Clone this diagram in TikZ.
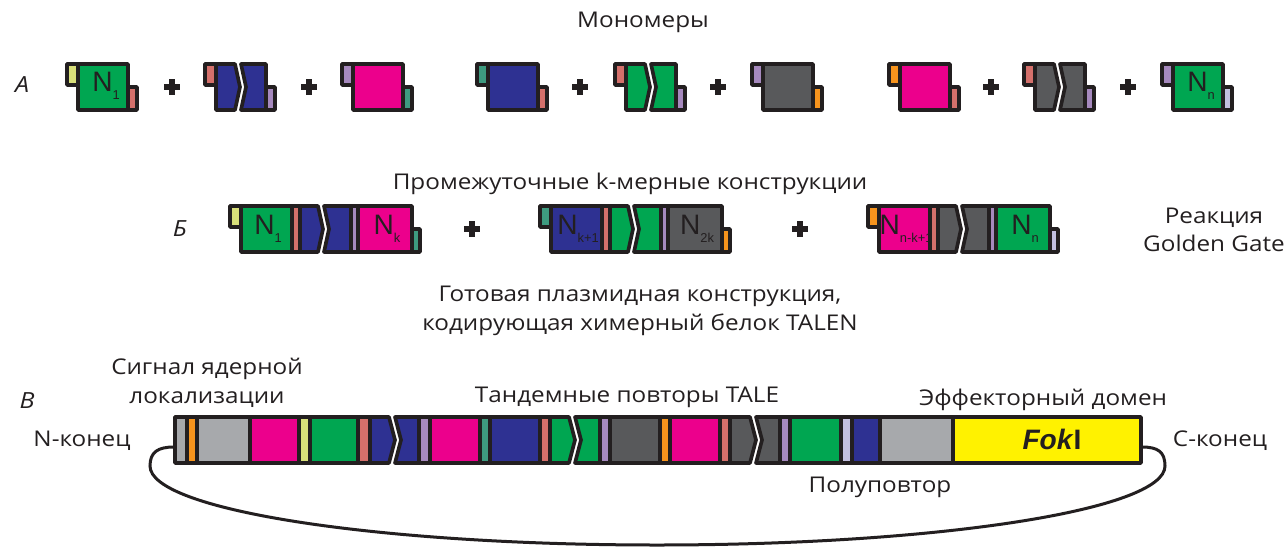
\documentclass[tikz,border=0pt]{standalone}
\usepackage{fontspec}
\setmainfont{Open Sans}[FakeStretch=1.12]
\newfontfamily\arial{Liberation Sans}
\usetikzlibrary{calc}

\definecolor{ink}{RGB}{35,31,32}
\definecolor{tgreen}{RGB}{0,166,81}
\definecolor{tblue}{RGB}{46,49,146}
\definecolor{tpink}{RGB}{236,0,140}
\definecolor{tdgray}{RGB}{88,89,91}
\definecolor{tlgray}{RGB}{167,169,172}
\definecolor{tyellow}{RGB}{255,242,0}
\definecolor{tlime}{RGB}{217,224,122}
\definecolor{tred}{RGB}{213,112,107}
\definecolor{tpurple}{RGB}{166,137,190}
\definecolor{tteal}{RGB}{62,155,128}
\definecolor{torange}{RGB}{247,148,29}
\definecolor{tlav}{RGB}{195,192,224}

\tikzset{
  part/.style={draw=ink, line width=0.11cm, line join=round},
  pluscross/.style={draw=ink, line width=0.2cm},
  lbl/.style={text=ink, font=\fontsize{18.5}{24.5}\selectfont, align=center, inner sep=0pt},
  sect/.style={text=ink, font=\fontsize{19}{24}\selectfont\itshape, inner sep=0pt},
  nlab/.style={text=ink, font=\arial\fontsize{24}{24}\selectfont, inner sep=0pt},
  plasmid/.style={draw=ink, line width=0.09cm},
}

% x0, top, left tab, body, right tab
\newcommand{\monomer}[5]{%
  \begin{scope}[shift={(#1,#2)}]
    \draw[part, fill=#3] (0,0) rectangle (11,21);
    \draw[part, fill=#5] (61,23) rectangle (70,46);
    \draw[part, fill=#4] (11,0) rectangle (61,46);
  \end{scope}}
\newcommand{\splitmono}[5]{%
  \begin{scope}[shift={(#1,#2)}]
    \draw[part, fill=#3] (0,0) rectangle (11,21);
    \draw[part, fill=#5] (61,23) rectangle (70,46);
    \draw[part, fill=#4] (11,0) -- (30,0) -- (35,23) -- (30,46) -- (11,46) -- cycle;
    \draw[part, fill=#4] (36,0) -- (61,0) -- (61,46) -- (36,46) -- (41,23) -- cycle;
  \end{scope}}
% x0, top, left tab, box, stripe, split pair, stripe, box, right tab
\newcommand{\kmer}[9]{%
  \begin{scope}[shift={(#1,#2)}]
    \draw[part, fill=#3] (0,0) rectangle (11,21);
    \draw[part, fill=#9] (182,23) rectangle (190,46);
    \draw[part, fill=#4] (11,0) rectangle (62,46);
    \draw[part, fill=#5] (62,0) rectangle (70,46);
    \draw[part, fill=#6] (70,0) -- (88,0) -- (93,23) -- (88,46) -- (70,46) -- cycle;
    \draw[part, fill=#6] (94,0) -- (121,0) -- (121,46) -- (94,46) -- (99,23) -- cycle;
    \draw[part, fill=#7] (121,0) rectangle (128,46);
    \draw[part, fill=#8] (128,0) rectangle (182,46);
  \end{scope}}
\newcommand{\plusat}[2]{\draw[pluscross] (#1-8,#2) -- (#1+8,#2) (#1,#2-8) -- (#1,#2+8);}
\newcommand{\nsub}[1]{N\raisebox{-7pt}{\fontsize{11}{11}\selectfont #1}}

\begin{document}
\begin{tikzpicture}[x=0.03cm, y=-0.03cm]
  \useasboundingbox (0,0) rectangle (1288,557);

  % monomers
  \node[lbl] (title) at (643,22) {Мономеры};
  \node[sect] (labA) at (22,85) {А};
  \monomer{67}{64}{tlime}{tgreen}{tred}
  \splitmono{205}{64}{tred}{tblue}{tpurple}
  \monomer{342}{64}{tpurple}{tpink}{tteal}
  \monomer{477}{64}{tteal}{tblue}{tred}
  \splitmono{615}{64}{tred}{tgreen}{tpurple}
  \monomer{752}{64}{tpurple}{tdgray}{torange}
  \monomer{889}{64}{torange}{tpink}{tred}
  \splitmono{1024}{64}{tred}{tdgray}{tpurple}
  \monomer{1162}{64}{tpurple}{tgreen}{tlav}
  \node[nlab] (n1) at (106,86) {\nsub{1}};
  \node[nlab] (nn) at (1201,86) {\nsub{n}};
  \foreach \px in {172,309,580,718,991,1128} {\plusat{\px}{87}}

  % k-mer constructs
  \node[lbl] (kmers) at (630,184) {Промежуточные k-мерные конструкции};
  \node[sect] (labB) at (180,229) {Б};
  \kmer{230}{206}{tlime}{tgreen}{tred}{tblue}{tpurple}{tpink}{tteal}
  \kmer{540}{206}{tteal}{tblue}{tred}{tgreen}{tpurple}{tdgray}{torange}
  \kmer{868}{206}{torange}{tpink}{tred}{tdgray}{tpurple}{tgreen}{tlav}
  \node[nlab] (kb1) at (268,229) {\nsub{1}};
  \node[nlab] (kb2) at (387,229) {\nsub{k}};
  \node[nlab] (kb3) at (578,229) {\nsub{k+1}};
  \node[nlab] (kb4) at (697,229) {\nsub{2k}};
  \node[nlab] (kb5) at (906,229) {\nsub{n-k+1}};
  \node[nlab] (kb6) at (1025,229) {\nsub{n}};
  \foreach \px in {472,800} {\plusat{\px}{229}}
  \node[lbl] (gg) at (1214,230) {Реакция\\Golden Gate};

  % assembled plasmid
  \node[lbl] (ready) at (640,311) {Готовая плазмидная конструкция,\\кодирующая химерный белок TALEN};
  \node[lbl] (nls) at (207,383) {Сигнал ядерной\\локализации};
  \node[sect] (labV) at (27,401) {В};
  \node[lbl] (tale) at (627,397) {Тандемные повторы TALE};
  \node[lbl] (eff) at (1043,400) {Эффекторный домен};
  \node[lbl] (nend) at (82,441) {N-конец};
  \node[lbl] (cend) at (1220,441) {C-конец};
  \node[lbl] (half) at (880,487) {Полуповтор};

  \foreach \a/\b/\c in {175/187/tlgray, 187/197/torange, 197/250/tlgray, 250/299/tpink,
      299/310/tlime, 310/358/tgreen, 358/370/tred,
      419/430/tpurple, 430/480/tpink, 480/490/tteal, 490/540/tblue, 540/550/tred,
      600/610/tpurple, 610/660/tdgray, 660/670/torange, 670/720/tpink, 720/730/tred,
      780/790/tpurple, 790/841/tgreen, 841/852/tlav, 852/880/tblue, 880/953/tlgray,
      953/1141/tyellow}
    \draw[part, fill=\c] (\a,417) rectangle (\b,463);
  \draw[part, fill=tblue] (370,417) -- (389,417) -- (395,440) -- (389,463) -- (370,463) -- cycle;
  \draw[part, fill=tblue] (395,417) -- (419,417) -- (419,463) -- (395,463) -- (401,440) -- cycle;
  \draw[part, fill=tgreen] (550,417) -- (569,417) -- (575,440) -- (569,463) -- (550,463) -- cycle;
  \draw[part, fill=tgreen] (575,417) -- (600,417) -- (600,463) -- (575,463) -- (581,440) -- cycle;
  \draw[part, fill=tdgray] (730,417) -- (750,417) -- (756,440) -- (750,463) -- (730,463) -- cycle;
  \draw[part, fill=tdgray] (756,417) -- (780,417) -- (780,463) -- (756,463) -- (762,440) -- cycle;
  \node[text=ink, font=\arial\fontsize{24}{24}\selectfont\bfseries, inner sep=0pt] (fok) at (1052,439) {\textit{Fok}I};

  \coordinate (plasL) at (174,447);
  \coordinate (plasR) at (1142,447);
  \draw[plasmid] (plasL) .. controls (158,447) and (150,452) .. (150,466)
    .. controls (150,510) and (377,545) .. (657,545)
    .. controls (937,545) and (1165,510) .. (1165,466)
    .. controls (1165,452) and (1158,447) .. (plasR);
\end{tikzpicture}
\end{document}
